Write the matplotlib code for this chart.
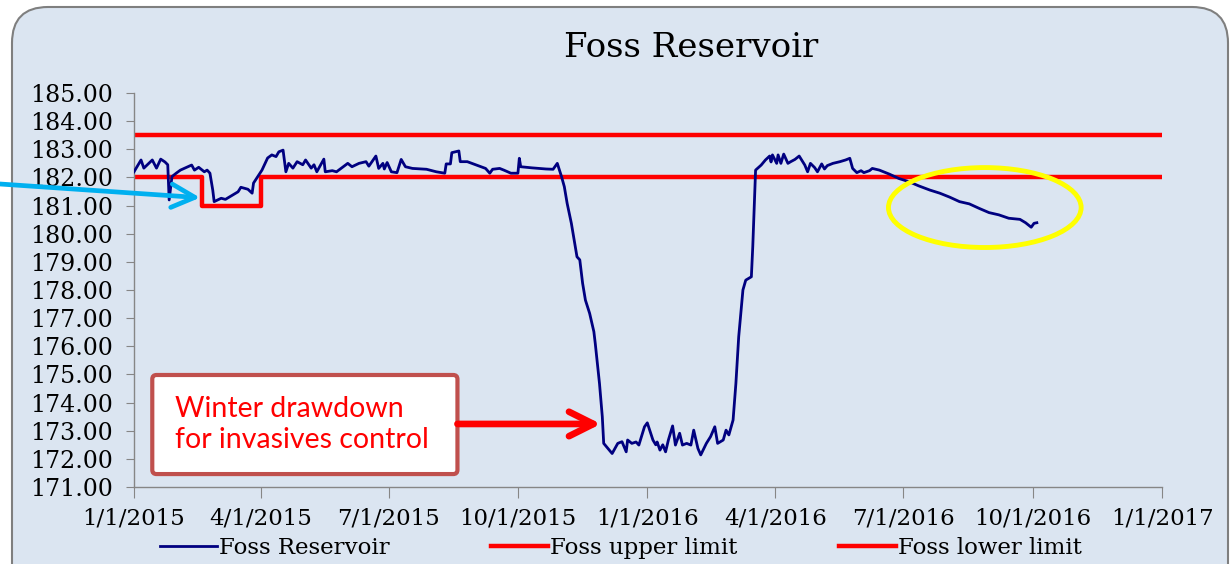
import numpy as np
import pandas as pd
import matplotlib
matplotlib.use("Agg")
import matplotlib.pyplot as plt
import matplotlib.dates as mdates
from matplotlib.patches import FancyBboxPatch, Ellipse

# ---- data ----
level_dates = [
    "2015-01-01", "2015-01-06", "2015-01-08", "2015-01-14", "2015-01-17", "2015-01-20",
    "2015-01-23", "2015-01-25", "2015-01-26", "2015-01-28", "2015-01-31", "2015-02-03",
    "2015-02-11", "2015-02-13", "2015-02-16", "2015-02-20", "2015-02-22", "2015-02-24",
    "2015-02-26", "2015-02-27", "2015-03-04", "2015-03-07", "2015-03-12", "2015-03-16",
    "2015-03-18", "2015-03-23", "2015-03-26", "2015-03-27", "2015-03-30", "2015-04-02",
    "2015-04-06", "2015-04-09", "2015-04-12", "2015-04-14", "2015-04-17", "2015-04-19",
    "2015-04-21", "2015-04-24", "2015-04-27", "2015-05-01", "2015-05-03", "2015-05-07",
    "2015-05-09", "2015-05-11", "2015-05-16", "2015-05-17", "2015-05-22", "2015-05-25",
    "2015-06-02", "2015-06-05", "2015-06-10", "2015-06-15", "2015-06-17", "2015-06-22",
    "2015-06-24", "2015-06-27", "2015-06-28", "2015-06-30", "2015-07-03", "2015-07-07",
    "2015-07-10", "2015-07-13", "2015-07-18", "2015-07-28", "2015-08-04", "2015-08-10",
    "2015-08-11", "2015-08-14", "2015-08-15", "2015-08-20", "2015-08-21", "2015-08-26",
    "2015-09-01", "2015-09-08", "2015-09-11", "2015-09-13", "2015-09-18", "2015-09-21",
    "2015-09-26", "2015-10-01", "2015-10-02", "2015-10-03", "2015-10-11", "2015-10-21",
    "2015-10-26", "2015-10-29", "2015-11-01", "2015-11-03", "2015-11-05", "2015-11-08",
    "2015-11-10", "2015-11-12", "2015-11-14", "2015-11-16", "2015-11-18", "2015-11-21",
    "2015-11-24", "2015-11-25", "2015-11-28", "2015-11-30", "2015-12-01", "2015-12-04",
    "2015-12-07", "2015-12-11", "2015-12-14", "2015-12-17", "2015-12-18", "2015-12-21",
    "2015-12-24", "2015-12-26", "2015-12-30", "2016-01-01", "2016-01-05", "2016-01-07",
    "2016-01-08", "2016-01-10", "2016-01-12", "2016-01-14", "2016-01-16", "2016-01-19",
    "2016-01-21", "2016-01-24", "2016-01-26", "2016-01-29", "2016-02-01", "2016-02-03",
    "2016-02-06", "2016-02-08", "2016-02-12", "2016-02-15", "2016-02-18", "2016-02-20",
    "2016-02-24", "2016-02-26", "2016-02-28", "2016-03-02", "2016-03-04", "2016-03-06",
    "2016-03-09", "2016-03-11", "2016-03-15", "2016-03-16", "2016-03-18", "2016-03-22",
    "2016-03-25", "2016-03-28", "2016-03-29", "2016-03-30", "2016-04-02", "2016-04-03",
    "2016-04-05", "2016-04-07", "2016-04-10", "2016-04-12", "2016-04-15", "2016-04-18",
    "2016-04-22", "2016-04-24", "2016-04-26", "2016-04-29", "2016-05-01", "2016-05-04",
    "2016-05-06", "2016-05-08", "2016-05-12", "2016-05-17", "2016-05-21", "2016-05-24",
    "2016-05-26", "2016-05-29", "2016-06-01", "2016-06-03", "2016-06-07", "2016-06-09",
    "2016-06-14", "2016-06-21", "2016-06-28", "2016-07-05", "2016-07-12", "2016-07-20",
    "2016-07-27", "2016-08-03", "2016-08-10", "2016-08-17", "2016-08-24", "2016-08-31",
    "2016-09-07", "2016-09-14", "2016-09-22", "2016-09-26", "2016-09-30", "2016-10-02",
    "2016-10-04",
]
level_values = [
    182.20, 182.62, 182.33, 182.62, 182.33, 182.65,
    182.55, 182.45, 181.20, 182.03, 182.15, 182.26,
    182.44, 182.26, 182.36, 182.20, 182.26, 182.15,
    181.55, 181.14, 181.26, 181.22, 181.37, 181.49,
    181.65, 181.58, 181.44, 181.80, 182.03, 182.26,
    182.69, 182.80, 182.74, 182.91, 182.97, 182.20,
    182.50, 182.33, 182.56, 182.45, 182.62, 182.33,
    182.45, 182.20, 182.65, 182.20, 182.24, 182.20,
    182.50, 182.38, 182.50, 182.56, 182.40, 182.76,
    182.32, 182.50, 182.30, 182.53, 182.20, 182.17,
    182.64, 182.38, 182.32, 182.29, 182.20, 182.15,
    182.48, 182.48, 182.88, 182.94, 182.56, 182.56,
    182.45, 182.32, 182.15, 182.29, 182.32, 182.26,
    182.15, 182.15, 182.68, 182.38, 182.34, 182.30,
    182.29, 182.50, 182.03, 181.67, 181.08, 180.37,
    179.78, 179.18, 179.07, 178.24, 177.64, 177.17,
    176.52, 176.10, 174.68, 173.50, 172.55, 172.37,
    172.19, 172.55, 172.61, 172.25, 172.67, 172.55,
    172.60, 172.49, 173.14, 173.28, 172.67, 172.50,
    172.60, 172.31, 172.50, 172.25, 172.67, 173.17,
    172.49, 172.91, 172.49, 172.55, 172.49, 173.02,
    172.37, 172.14, 172.55, 172.79, 173.14, 172.55,
    172.67, 173.02, 172.85, 173.38, 174.68, 176.34,
    178.00, 178.35, 178.47, 179.54, 182.26, 182.44,
    182.62, 182.76, 182.55, 182.80, 182.50, 182.80,
    182.50, 182.83, 182.50, 182.56, 182.64, 182.76,
    182.44, 182.20, 182.50, 182.35, 182.20, 182.48,
    182.30, 182.42, 182.50, 182.56, 182.62, 182.68,
    182.32, 182.17, 182.24, 182.17, 182.24, 182.32,
    182.26, 182.12, 181.96, 181.85, 181.70, 181.55,
    181.44, 181.30, 181.14, 181.06, 180.90, 180.75,
    180.67, 180.55, 180.51, 180.39, 180.23, 180.37,
    180.39,
]

upper_dates = ["2015-01-01", "2017-01-01"]
upper_values = [183.5, 183.5]

lower_dates = ["2015-01-01", "2015-02-18", "2015-04-01", "2017-01-01"]
lower_values = [182.0, 181.0, 182.0, 182.0]

xtick_dates = ["2015-01-01", "2015-04-01", "2015-07-01", "2015-10-01", "2016-01-01",
               "2016-04-01", "2016-07-01", "2016-10-01", "2017-01-01"]
xtick_labels = ["1/1/2015", "4/1/2015", "7/1/2015", "10/1/2015", "1/1/2016",
                "4/1/2016", "7/1/2016", "10/1/2016", "1/1/2017"]
yticks = list(range(171, 186))

title = "Foss Reservoir"
note = "Winter drawdown\nfor invasives control"

W, H = 1232, 564
BG = "#dbe5f1"
NAVY = "#000080"
RED = "#ff0000"

plt.rcParams["font.family"] = ["DejaVu Serif"]

fig = plt.figure(figsize=(W / 100, H / 100), dpi=100)
fig.patch.set_facecolor("white")

# rounded panel behind everything
bg = fig.add_axes([0, 0, 1, 1], zorder=-5)
bg.set_xlim(0, W)
bg.set_ylim(H, 0)
bg.axis("off")
bg.add_patch(FancyBboxPatch((12, 7), W - 16, H + 40,
                            boxstyle="round,pad=0,rounding_size=36",
                            facecolor=BG, edgecolor="#7f7f7f", lw=1.5))

ax = fig.add_axes([134 / W, 1 - 487 / H, (1162 - 134) / W, (487 - 93) / H])
ax.patch.set_alpha(0)

d_level = pd.to_datetime(level_dates)
d_upper = pd.to_datetime(upper_dates)
d_lower = pd.to_datetime(lower_dates)

ax.plot(d_level, level_values, color=NAVY, lw=2, label="Foss Reservoir", zorder=3)
ax.plot(d_upper, upper_values, color=RED, lw=3.2, label="Foss upper limit", zorder=2)
ax.plot(d_lower, lower_values, color=RED, lw=3.2, drawstyle="steps-post",
        label="Foss lower limit", zorder=2)

ax.set_xlim(pd.Timestamp("2015-01-01"), pd.Timestamp("2017-01-01"))
ax.set_ylim(171, 185)
ax.set_yticks(yticks)
ax.set_yticklabels([f"{v:.2f}" for v in yticks])
ax.set_xticks(pd.to_datetime(xtick_dates))
ax.set_xticklabels(xtick_labels)

for s in ["top", "right"]:
    ax.spines[s].set_visible(False)
for s in ["left", "bottom"]:
    ax.spines[s].set_color("#868686")
    ax.spines[s].set_linewidth(1)
ax.tick_params(axis="y", direction="out", length=6, color="#868686", labelsize=17, pad=9)
ax.tick_params(axis="x", direction="out", length=8, color="#868686", labelsize=16.5, pad=7)

fig.text(691 / W, 1 - 48 / H, title, ha="center", va="center", fontsize=24.5)

# legend
leg = ax.legend(loc="center", bbox_to_anchor=(621 / W, 16 / H), bbox_transform=fig.transFigure,
                ncol=3, frameon=False, fontsize=16.5, handlelength=2.5, handletextpad=0.1,
                columnspacing=4.4, borderpad=0)

# annotation box
x0 = mdates.date2num(pd.Timestamp("2015-01-14"))
x1 = mdates.date2num(pd.Timestamp("2015-08-19"))
ax.add_patch(FancyBboxPatch((x0, 171.46), x1 - x0, 3.52,
                            boxstyle="round,pad=0,rounding_size=3", mutation_aspect=0.05,
                            facecolor="white", edgecolor="#c0504d", lw=3, zorder=5))
ax.text(pd.Timestamp("2015-01-30"), 173.22, note, color=RED, fontsize=20.5,
        family=["Lato", "DejaVu Sans"], ha="left", va="center", linespacing=1.2, zorder=6)

ax.annotate("", xy=(pd.Timestamp("2015-11-29"), 173.24), xytext=(pd.Timestamp("2015-08-19"), 173.24),
            arrowprops=dict(arrowstyle="->", color=RED, lw=4.8, mutation_scale=44,
                            shrinkA=0, shrinkB=0), zorder=6)

ax.annotate("", xy=(pd.Timestamp("2015-02-17"), 181.28), xytext=(0, H - 184),
            textcoords="figure pixels",
            arrowprops=dict(arrowstyle="->", color="#00b0f0", lw=3.4, mutation_scale=42,
                            shrinkA=0, shrinkB=0), annotation_clip=False, zorder=6)

# highlight of the recent decline
ax.add_patch(Ellipse((mdates.date2num(pd.Timestamp("2016-08-28")), 180.93), 137, 2.84,
                     fill=False, edgecolor="#ffff00", lw=3.5, zorder=7, clip_on=False))

fig.savefig("out.png", dpi=100)
